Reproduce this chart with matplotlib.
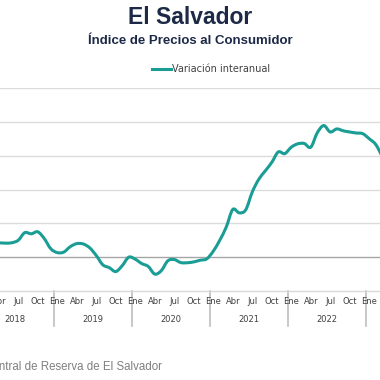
import matplotlib
matplotlib.use("Agg")
import matplotlib.pyplot as plt
from matplotlib.path import Path
from matplotlib.patches import PathPatch
import numpy as np

# Variación interanual del IPC, mensual desde abril 2018 hasta abril 2023 (%)
first_month = -9   # abril 2018, relativo a enero 2019 = 0
values = [
    0.85, 0.83, 0.85, 1.00, 1.45, 1.38, 1.50, 1.10, 0.50,          # abr-dic 2018
    0.27, 0.30, 0.62, 0.80, 0.78, 0.55, 0.10, -0.45, -0.62, -0.85, -0.50, 0.00,   # 2019
    -0.12, -0.38, -0.55, -1.00, -0.80, -0.22, -0.14, -0.32, -0.33, -0.28, -0.18, -0.10,  # 2020
    0.35, 1.00, 1.78, 2.82, 2.62, 2.80, 3.85, 4.60, 5.10, 5.60, 6.22, 6.12,  # 2021
    6.50, 6.70, 6.72, 6.50, 7.35, 7.78, 7.40, 7.58, 7.47, 7.40, 7.34, 7.30,  # 2022
    7.00, 6.66, 5.94, 5.10,                                               # 2023
]
month_labels = ["Ene", "Abr", "Jul", "Oct"]
month_label_idx = [0, 3, 6, 9]
years = [2018, 2019, 2020, 2021, 2022, 2023]
y_ticks = [-2, 0, 2, 4, 6, 8, 10]

TEAL = "#1a9d95"
NAVY = "#1d2a47"

W = H = 380
fig = plt.figure(figsize=(W / 100, H / 100), dpi=100, facecolor="white")

# axes a bit wider than the picture: the original is cropped on both sides
ax_bottom, ax_top = 291, 88
ax = fig.add_axes([0, 1 - ax_bottom / H, 1, (ax_bottom - ax_top) / H])
px_per_month = 6.5
x0 = -57.25 / px_per_month
ax.set_xlim(x0, x0 + W / px_per_month)
ax.set_ylim(-2, 10)

for s in ["top", "left", "right"]:
    ax.spines[s].set_visible(False)
ax.spines["bottom"].set_color("#d9d9d9")
ax.spines["bottom"].set_linewidth(1)
ax.set_xticks([])
ax.set_yticks([])

for v in y_ticks[1:]:
    ax.axhline(v, color="#a6a6a6" if v == 0 else "#dcdcdc", lw=1.0, zorder=1)

# smoothed line (like Excel "smooth line"): cubic Bezier through every point
x = np.arange(len(values)) + first_month
pts = np.column_stack([x, values]).astype(float)
ext = np.vstack([pts[0], pts, pts[-1]])
verts = [pts[0]]
codes = [Path.MOVETO]
for i in range(len(pts) - 1):
    p0, p1, p2, p3 = ext[i], ext[i + 1], ext[i + 2], ext[i + 3]
    verts += [p1 + (p2 - p0) / 6, p2 - (p3 - p1) / 6, p2]
    codes += [Path.CURVE4] * 3
ax.add_patch(PathPatch(Path(verts, codes), facecolor="none", edgecolor=TEAL,
                       lw=2.2, capstyle="round", joinstyle="round", zorder=3))

ax_h = ax_bottom - ax_top
def ay(py):
    return (ax_bottom - py) / ax_h

trans = ax.get_xaxis_transform()
for yr in years:
    base = (yr - 2019) * 12
    for lab, k in zip(month_labels, month_label_idx):
        ax.text(base + k, ay(302), lab, transform=trans, ha="center", va="center",
                fontsize=6, color="#404040", family="DejaVu Sans")
    ax.text(base + 5.5, ay(319), str(yr), transform=trans, ha="center", va="center",
            fontsize=6, color="#404040", family="DejaVu Sans")
    if yr > 2018:
        ax.plot([base - 0.5, base - 0.5], [0, ay(326)], transform=trans,
                color="#bdbdbd", lw=1.2, clip_on=False)

fig.text(0.5, 1 - 18 / H, "El Salvador", ha="center", va="center",
         fontsize=16.5, fontweight="bold", color=NAVY, family="Liberation Sans")
fig.text(0.5, 1 - 41 / H, "Índice de Precios al Consumidor", ha="center", va="center",
         fontsize=9.5, fontweight="bold", color=NAVY, family="Liberation Sans")

# legend
fig.add_artist(plt.Line2D([151.5 / W, 170.5 / W], [1 - 69 / H, 1 - 69 / H],
                          color=TEAL, lw=2.2))
fig.text(172 / W, 1 - 69 / H, "Variación interanual", ha="left", va="center",
         fontsize=7, color="#404040", family="DejaVu Sans")

fig.text(162 / W, 1 - 367 / H, "Fuente: Banco Central de Reserva de El Salvador",
         ha="right", va="center", fontsize=8.3, color="#7f7f7f", family="Liberation Sans")

fig.savefig("out.png", dpi=100, facecolor="white")
